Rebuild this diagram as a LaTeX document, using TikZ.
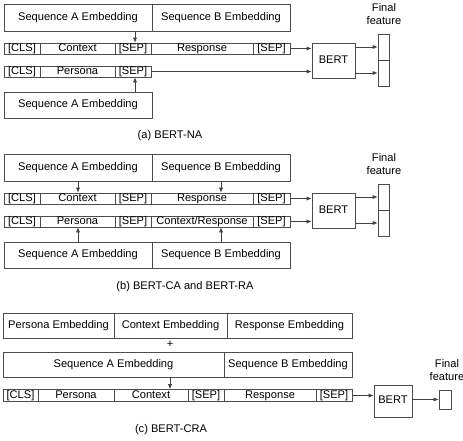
\documentclass[tikz,border=0pt]{standalone}
\usepackage{fontspec}
\setmainfont{Liberation Sans}
\usetikzlibrary{arrows.meta}
\begin{document}
\begin{tikzpicture}[x=1pt,y=-1pt,
  every node/.style={font=\fontsize{11.1}{13.5}\selectfont, inner sep=0pt},
  box/.style={draw=black!70, line width=0.7pt, rectangle, text height=7.8pt, text depth=2.2pt},
  cell/.style={draw=black!70, line width=0.7pt, rectangle, minimum height=11pt, text height=7.8pt, text depth=2.2pt},
  arr/.style={draw=black!75, line width=0.7pt, -{Latex[length=5pt,width=4.2pt]}},
  lbl/.style={align=center}]
\useasboundingbox (0,0) rectangle (463,440);
% ---------------- (a)
\node[box, minimum width=148pt, minimum height=27pt] (aTA) at (78,17.5) {Sequence A Embedding};
\node[box, minimum width=138pt, minimum height=27pt] (aTB) at (221,17.5) {Sequence B Embedding};
\node[cell, minimum width=36pt] (a1a) at (22,48.5) {[CLS]};
\node[cell, minimum width=75pt] (a1b) at (77.5,48.5) {Context};
\node[cell, minimum width=36pt] (a1c) at (133,48.5) {[SEP]};
\node[cell, minimum width=102pt] (a1d) at (202,48.5) {Response};
\node[cell, minimum width=37pt] (a1e) at (271.5,48.5) {[SEP]};
\node[cell, minimum width=36pt] (a2a) at (22,71.5) {[CLS]};
\node[cell, minimum width=75pt] (a2b) at (77.5,71.5) {Persona};
\node[cell, minimum width=36pt] (a2c) at (133,71.5) {[SEP]};
\node[box, minimum width=148pt, minimum height=26pt] (aBA) at (78,105) {Sequence A Embedding};
\node[box, minimum width=43pt, minimum height=35pt] (abert) at (333.5,60.5) {BERT};
\node[box, minimum width=11pt, minimum height=26pt] (af1) at (383.5,47) {};
\node[box, minimum width=11pt, minimum height=26pt] (af2) at (383.5,73) {};
\node[lbl] (afl) at (384,14) {Final\\feature};
\node (acap) at (170,136) {(a) BERT-NA};
\draw[arr] (aTA.south -| 135,0) -- (a1c.north -| 135,0);
\draw[arr] (aBA.north -| 135,0) -- (a2c.south -| 135,0);
\draw[arr] (a1e.east) -- (a1e.east -| abert.west);
\draw[arr] (a2c.east) -- (a2c.east -| abert.west);
\draw[arr] (abert.east |- af1.west) -- (af1.west);
\draw[arr] (abert.east |- af2.west) -- (af2.west);
% ---------------- (b)
\node[box, minimum width=148pt, minimum height=27pt] (bTA) at (78,167.5) {Sequence A Embedding};
\node[box, minimum width=138pt, minimum height=27pt] (bTB) at (221,167.5) {Sequence B Embedding};
\node[cell, minimum width=36pt] (b1a) at (22,198.5) {[CLS]};
\node[cell, minimum width=75pt] (b1b) at (77.5,198.5) {Context};
\node[cell, minimum width=36pt] (b1c) at (133,198.5) {[SEP]};
\node[cell, minimum width=102pt] (b1d) at (202,198.5) {Response};
\node[cell, minimum width=37pt] (b1e) at (271.5,198.5) {[SEP]};
\node[cell, minimum width=36pt] (b2a) at (22,221.5) {[CLS]};
\node[cell, minimum width=75pt] (b2b) at (77.5,221.5) {Persona};
\node[cell, minimum width=36pt] (b2c) at (133,221.5) {[SEP]};
\node[cell, minimum width=102pt] (b2d) at (202,221.5) {Context/Response};
\node[cell, minimum width=37pt] (b2e) at (271.5,221.5) {[SEP]};
\node[box, minimum width=148pt, minimum height=26pt] (bBA) at (78,255) {Sequence A Embedding};
\node[box, minimum width=138pt, minimum height=26pt] (bBB) at (221,255) {Sequence B Embedding};
\node[box, minimum width=43pt, minimum height=35pt] (bbert) at (333.5,210.5) {BERT};
\node[box, minimum width=11pt, minimum height=26pt] (bf1) at (383.5,197) {};
\node[box, minimum width=11pt, minimum height=26pt] (bf2) at (383.5,223) {};
\node[lbl] (bfl) at (384,164) {Final\\feature};
\node (bcap) at (185,287) {(b) BERT-CA and BERT-RA};
\draw[arr] (bTA.south) -- (bTA.south |- b1b.north);
\draw[arr] (bTB.south) -- (bTB.south |- b1d.north);
\draw[arr] (bBA.north) -- (bBA.north |- b2b.south);
\draw[arr] (bBB.north) -- (bBB.north |- b2d.south);
\draw[arr] (b1e.east) -- (b1e.east -| bbert.west);
\draw[arr] (b2e.east) -- (b2e.east -| bbert.west);
\draw[arr] (bbert.east |- bf1.west) -- (bf1.west);
\draw[arr] (bbert.east |- bf2.west) -- (bf2.west);
% ---------------- (c)
\node[box, minimum width=111pt, minimum height=25pt] (cP) at (58.5,325.5) {Persona Embedding};
\node[box, minimum width=113pt, minimum height=25pt] (cC) at (170.5,325.5) {Context Embedding};
\node[box, minimum width=125pt, minimum height=25pt] (cR) at (289.5,325.5) {Response Embedding};
\node (cplus) at (170,344) {+};
\node[box, minimum width=221pt, minimum height=25pt] (cA) at (113.5,364.5) {Sequence A Embedding};
\node[box, minimum width=128pt, minimum height=25pt] (cB) at (288,364.5) {Sequence B Embedding};
\node[cell, minimum width=35pt, minimum height=12pt] (c1) at (20.5,395.5) {[CLS]};
\node[cell, minimum width=76pt, minimum height=12pt] (c2) at (76,395.5) {Persona};
\node[cell, minimum width=74pt, minimum height=12pt] (c3) at (151,395.5) {Context};
\node[cell, minimum width=36pt, minimum height=12pt] (c4) at (206,395.5) {[SEP]};
\node[cell, minimum width=92pt, minimum height=12pt] (c5) at (270,395.5) {Response};
\node[cell, minimum width=36pt, minimum height=12pt] (c6) at (334,395.5) {[SEP]};
\node[box, minimum width=38pt, minimum height=32pt] (cbert) at (393,401) {BERT};
\node[box, minimum width=12pt, minimum height=19pt] (cf) at (445,399.5) {};
\node[lbl] (cfl) at (447,370) {Final\\feature};
\node (ccap) at (171,430) {(c) BERT-CRA};
\draw[arr] (cA.south -| cplus) -- (c3.north -| cplus);
\draw[arr] (c6.east) -- (c6.east -| cbert.west);
\draw[arr] (cbert.east |- cf.west) -- (cf.west);
\end{tikzpicture}
\end{document}
